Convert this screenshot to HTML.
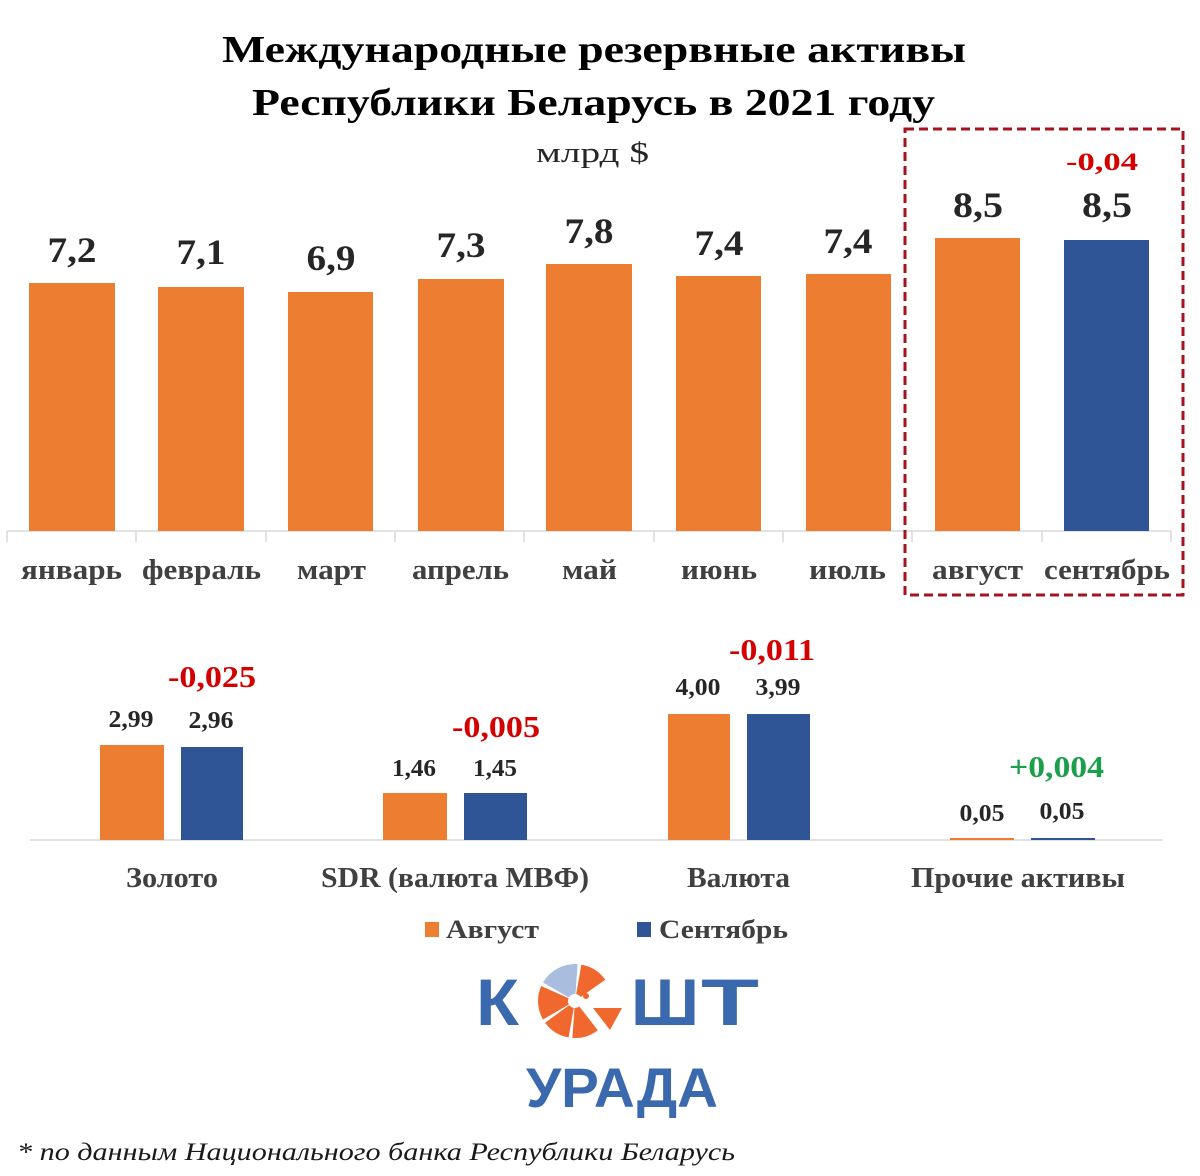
<!DOCTYPE html>
<html>
<head>
<meta charset="utf-8">
<style>
  html,body{margin:0;padding:0;background:#fff;}
  svg{display:block;}
  .serif{font-family:"Liberation Serif","DejaVu Serif",serif;}
  .sans{font-family:"Liberation Sans","DejaVu Sans",sans-serif;}
</style>
</head>
<body>
<svg width="1200" height="1176" viewBox="0 0 1200 1176" xmlns="http://www.w3.org/2000/svg">
  <rect x="0" y="0" width="1200" height="1176" fill="#fff"/>

  <!-- Title -->
  <g class="serif" font-weight="bold" fill="#000">
    <text x="222" y="62" font-size="38" textLength="744" lengthAdjust="spacingAndGlyphs">Международные резервные активы</text>
    <text x="252" y="115" font-size="38" textLength="683" lengthAdjust="spacingAndGlyphs">Республики Беларусь в 2021 году</text>
  </g>
  <text class="serif" x="536" y="162" font-size="29" fill="#262626" textLength="113" lengthAdjust="spacingAndGlyphs">млрд $</text>

  <!-- Top chart axis -->
  <line x1="7" y1="531" x2="1171" y2="531" stroke="#d9d9d9" stroke-width="1.5"/>
  <g stroke="#d9d9d9" stroke-width="1.5">
    <line x1="7" y1="531" x2="7" y2="542"/>
    <line x1="136" y1="531" x2="136" y2="542"/>
    <line x1="266" y1="531" x2="266" y2="542"/>
    <line x1="395" y1="531" x2="395" y2="542"/>
    <line x1="524" y1="531" x2="524" y2="542"/>
    <line x1="654" y1="531" x2="654" y2="542"/>
    <line x1="783" y1="531" x2="783" y2="542"/>
    <line x1="912" y1="531" x2="912" y2="542"/>
    <line x1="1042" y1="531" x2="1042" y2="542"/>
    <line x1="1171" y1="531" x2="1171" y2="542"/>
  </g>

  <!-- Top bars -->
  <g fill="#ED7D31">
    <rect x="29" y="283" width="86" height="248"/>
    <rect x="158" y="287" width="86" height="244"/>
    <rect x="288" y="292" width="85" height="239"/>
    <rect x="418" y="279" width="86" height="252"/>
    <rect x="546" y="264" width="86" height="267"/>
    <rect x="676" y="276" width="85" height="255"/>
    <rect x="806" y="274" width="85" height="257"/>
    <rect x="935" y="238" width="85" height="293"/>
  </g>
  <rect x="1064" y="240" width="85" height="291" fill="#2F5597"/>

  <!-- Top values -->
  <g class="serif" font-weight="bold" font-size="36" fill="#262626" text-anchor="middle">
    <text x="72" y="262" textLength="49" lengthAdjust="spacingAndGlyphs">7,2</text>
    <text x="201" y="264" textLength="49" lengthAdjust="spacingAndGlyphs">7,1</text>
    <text x="331" y="270" textLength="49" lengthAdjust="spacingAndGlyphs">6,9</text>
    <text x="461" y="257" textLength="49" lengthAdjust="spacingAndGlyphs">7,3</text>
    <text x="589" y="243" textLength="49" lengthAdjust="spacingAndGlyphs">7,8</text>
    <text x="719" y="255" textLength="49" lengthAdjust="spacingAndGlyphs">7,4</text>
    <text x="848" y="253" textLength="49" lengthAdjust="spacingAndGlyphs">7,4</text>
    <text x="978" y="217" textLength="50" lengthAdjust="spacingAndGlyphs">8,5</text>
    <text x="1107" y="217" textLength="50" lengthAdjust="spacingAndGlyphs">8,5</text>
  </g>
  <text class="serif" x="1102" y="170" font-weight="bold" font-size="25" fill="#d40000" text-anchor="middle" textLength="72" lengthAdjust="spacingAndGlyphs">-0,04</text>

  <!-- Month labels -->
  <g class="serif" font-weight="bold" font-size="28" fill="#404040">
    <text x="21" y="579" textLength="101" lengthAdjust="spacingAndGlyphs">январь</text>
    <text x="142" y="579" textLength="119" lengthAdjust="spacingAndGlyphs">февраль</text>
    <text x="297" y="579" textLength="69" lengthAdjust="spacingAndGlyphs">март</text>
    <text x="412" y="579" textLength="97" lengthAdjust="spacingAndGlyphs">апрель</text>
    <text x="562" y="579" textLength="55" lengthAdjust="spacingAndGlyphs">май</text>
    <text x="681" y="579" textLength="76" lengthAdjust="spacingAndGlyphs">июнь</text>
    <text x="809" y="579" textLength="77" lengthAdjust="spacingAndGlyphs">июль</text>
    <text x="932" y="579" textLength="91" lengthAdjust="spacingAndGlyphs">август</text>
    <text x="1044" y="579" textLength="126" lengthAdjust="spacingAndGlyphs">сентябрь</text>
  </g>

  <!-- Dashed box -->
  <rect x="905" y="129" width="278" height="466" fill="none" stroke="#a3141e" stroke-width="3" stroke-dasharray="9 5"/>

  <!-- Bottom chart axis -->
  <line x1="30" y1="840" x2="1163" y2="840" stroke="#d9d9d9" stroke-width="1.5"/>

  <!-- Bottom bars -->
  <g fill="#ED7D31">
    <rect x="100" y="745" width="64" height="95"/>
    <rect x="383" y="793" width="64" height="47"/>
    <rect x="668" y="714" width="62" height="126"/>
    <rect x="950" y="838" width="64" height="2"/>
  </g>
  <g fill="#2F5597">
    <rect x="181" y="747" width="62" height="93"/>
    <rect x="464" y="793" width="63" height="47"/>
    <rect x="747" y="714" width="63" height="126"/>
    <rect x="1031" y="838" width="64" height="2"/>
  </g>

  <!-- Bottom values -->
  <g class="serif" font-weight="bold" font-size="24" fill="#262626" text-anchor="middle">
    <text x="131" y="727" textLength="45" lengthAdjust="spacingAndGlyphs">2,99</text>
    <text x="211" y="728" textLength="45" lengthAdjust="spacingAndGlyphs">2,96</text>
    <text x="414" y="776" textLength="44" lengthAdjust="spacingAndGlyphs">1,46</text>
    <text x="495" y="776" textLength="44" lengthAdjust="spacingAndGlyphs">1,45</text>
    <text x="698" y="695" textLength="45" lengthAdjust="spacingAndGlyphs">4,00</text>
    <text x="778" y="695" textLength="45" lengthAdjust="spacingAndGlyphs">3,99</text>
    <text x="982" y="821" textLength="45" lengthAdjust="spacingAndGlyphs">0,05</text>
    <text x="1062" y="819" textLength="45" lengthAdjust="spacingAndGlyphs">0,05</text>
  </g>

  <!-- Deltas -->
  <g class="serif" font-weight="bold" font-size="31">
    <text x="168" y="687" fill="#d40000" textLength="88" lengthAdjust="spacingAndGlyphs">-0,025</text>
    <text x="452" y="737" fill="#d40000" textLength="88" lengthAdjust="spacingAndGlyphs">-0,005</text>
    <text x="729" y="660" fill="#d40000" textLength="86" lengthAdjust="spacingAndGlyphs">-0,011</text>
    <text x="1009" y="777" fill="#1c9f4b" textLength="95" lengthAdjust="spacingAndGlyphs">+0,004</text>
  </g>

  <!-- Category labels -->
  <g class="serif" font-weight="bold" font-size="28" fill="#404040">
    <text x="126" y="887" textLength="92" lengthAdjust="spacingAndGlyphs">Золото</text>
    <text x="321" y="887" textLength="268" lengthAdjust="spacingAndGlyphs">SDR (валюта МВФ)</text>
    <text x="687" y="887" textLength="103" lengthAdjust="spacingAndGlyphs">Валюта</text>
    <text x="911" y="887" textLength="214" lengthAdjust="spacingAndGlyphs">Прочие активы</text>
  </g>

  <!-- Legend -->
  <rect x="425" y="922" width="14" height="15" fill="#ED7D31"/>
  <text class="serif" x="446" y="938" font-weight="bold" font-size="26" fill="#404040" textLength="93" lengthAdjust="spacingAndGlyphs">Август</text>
  <rect x="637" y="922" width="14" height="15" fill="#2F5597"/>
  <text class="serif" x="659" y="938" font-weight="bold" font-size="26" fill="#404040" textLength="129" lengthAdjust="spacingAndGlyphs">Сентябрь</text>

  <!-- Logo -->
  <g class="sans" font-weight="bold" fill="#3a69ad">
    <text x="476" y="1025" font-size="66" textLength="43" lengthAdjust="spacingAndGlyphs">К</text>
    <text x="631" y="1025" font-size="66" textLength="68" lengthAdjust="spacingAndGlyphs">Ш</text>
    <text x="701" y="1025" font-size="66" textLength="58" lengthAdjust="spacingAndGlyphs">Т</text>
    <text x="526" y="1107" font-size="56" textLength="192" lengthAdjust="spacingAndGlyphs">УРАДА</text>
  </g>
  <g transform="translate(575,1001)">
    <path d="M 6.4,-36.4 A 37 37 0 0 1 30.3,-21.2 L 5.7,-4.0 A 7 7 0 0 0 1.2,-6.9 Z" fill="#f0682d"/>
    <path d="M -32.0,-18.5 A 37 37 0 0 1 2.6,-36.9 L 0.5,-7.0 A 7 7 0 0 0 -6.1,-3.5 Z" fill="#a9bddf"/>
    <path d="M -32.0,18.5 A 37 37 0 0 1 -33.8,-15.0 L -6.4,-2.8 A 7 7 0 0 0 -6.1,3.5 Z" fill="#f0682d"/>
    <path d="M -6.4,36.4 A 37 37 0 0 1 -29.9,21.7 L -5.7,4.1 A 7 7 0 0 0 -1.2,6.9 Z" fill="#f0682d"/>
    <path d="M 22.8,29.2 A 37 37 0 0 1 -2.6,36.9 L -0.5,7.0 A 7 7 0 0 0 4.3,5.5 Z" fill="#f0682d"/>
    <path d="M 18,7 L 47,7 L 35,29 Z" fill="#f0682d"/>
    <circle cx="11" cy="-5" r="3" fill="#f0682d"/>
  </g>

  <!-- Footer -->
  <text class="serif" x="17" y="1160" font-style="italic" font-size="25" fill="#1a1a1a" textLength="718" lengthAdjust="spacingAndGlyphs">* по данным Национального банка Республики Беларусь</text>
</svg>
</body>
</html>
